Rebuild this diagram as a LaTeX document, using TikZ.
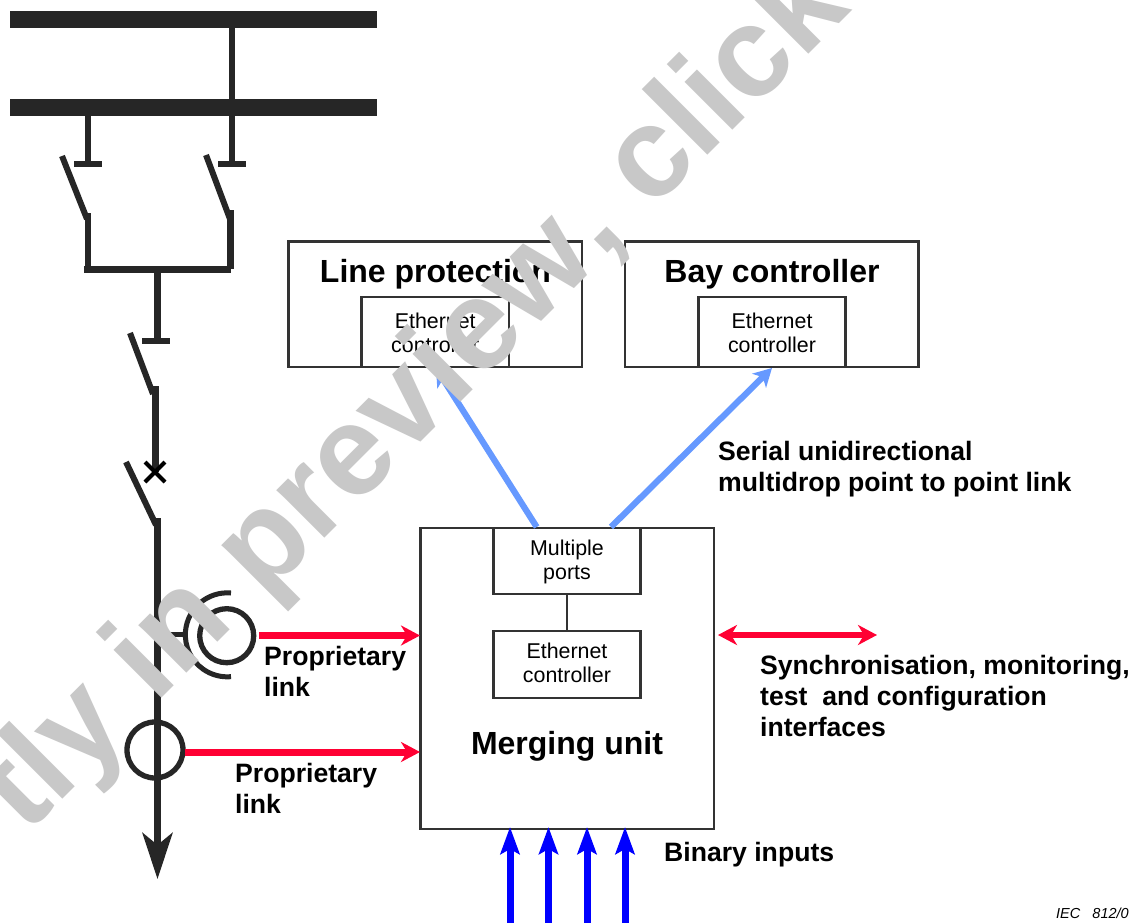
\documentclass[tikz,border=0pt]{standalone}
\usepackage{fontspec}
\setmainfont{Liberation Sans}
\usetikzlibrary{arrows.meta}
\definecolor{ink}{HTML}{262626}
\definecolor{boxline}{HTML}{333333}
\definecolor{redlink}{HTML}{FF0033}
\definecolor{lightblue}{HTML}{6699FF}
\definecolor{purblue}{HTML}{0000FF}
\definecolor{wmark}{HTML}{C8C8C8}
\tikzset{
  x=1pt,y=-1pt,
  power/.style={draw=ink,line width=7pt},
  thin power/.style={draw=ink,line width=6.3pt},
  blade/.style={draw=ink,line width=6pt},
  bus/.style={fill=ink,draw=none},
  wbox/.style={draw=boxline,line width=2.2pt,fill=white,inner sep=0pt},
  boxtext/.style={inner sep=0pt,align=center,font=\fontsize{21.4}{24}\selectfont},
  big/.style={font=\fontsize{32}{36}\bfseries\selectfont,inner sep=0pt,anchor=base},
  lab/.style={font=\fontsize{26.6}{31}\bfseries\selectfont,inner sep=0pt,anchor=base west},
  redarrow/.style={draw=redlink,line width=7pt,-{Stealth[length=19pt,width=20pt,inset=6pt]}},
  redboth/.style={draw=redlink,line width=6pt,{Stealth[length=19pt,width=20pt,inset=6pt]}-{Stealth[length=19pt,width=20pt,inset=6pt]}},
  bluelink/.style={draw=lightblue,line width=6.2pt,-{Stealth[length=18pt,width=19.5pt,inset=5pt]}},
  binput/.style={draw=purblue,line width=7pt,-{Stealth[length=27pt,width=19pt,inset=5pt]}},
  wm/.style={font=\fontsize{128}{128}\bfseries\selectfont,text=wmark,rotate=45,anchor=base west,inner sep=0pt},
}
\begin{document}
\begin{tikzpicture}
\useasboundingbox (0,0) rectangle (1133,923);
\clip (0,0) rectangle (1133,923);
\fill[white] (0,0) rectangle (1133,923);

% Busbars
\node[bus,minimum width=367pt,minimum height=17pt,inner sep=0pt] (bus1) at (193.5,19.5) {};
\node[bus,minimum width=367pt,minimum height=17pt,inner sep=0pt] (bus2) at (193.5,107.5) {};

% Disconnector columns
\coordinate (r0) at (232,28);
\coordinate (r1) at (232,164);
\coordinate (l0) at (88,116);
\coordinate (l1) at (88,164);
\coordinate (lc1) at (74,164);
\coordinate (lc2) at (102,164);
\coordinate (rc1) at (218,164);
\coordinate (rc2) at (246,164);
\coordinate (lb1) at (62,156);
\coordinate (lb2) at (87,219);
\coordinate (rb1) at (206,155);
\coordinate (rb2) at (230,219);
\coordinate (lv1) at (88,213);
\coordinate (lv2) at (88,270);
\coordinate (rv1) at (230.5,210);
\coordinate (rv2) at (230.5,269);
\coordinate (h1) at (84,269.5);
\coordinate (h2) at (231,269.5);
\draw[thin power] (r0) -- (r1);
\draw[thin power] (l0) -- (l1);
\draw[thin power] (lc1) -- (lc2);
\draw[thin power] (rc1) -- (rc2);
\draw[blade] (lb1) -- (lb2);
\draw[blade] (rb1) -- (rb2);
\draw[thin power] (lv1) -- (lv2);
\draw[thin power] (rv1) -- (rv2);
\draw[thin power] (h1) -- (h2);

% Main line
\coordinate (m0) at (157.5,272);
\coordinate (m1) at (157.5,341);
\coordinate (mc1) at (142,341);
\coordinate (mc2) at (170,341);
\coordinate (mb1) at (130,333);
\coordinate (mb2) at (153,394);
\coordinate (m2) at (155.5,386);
\coordinate (m3) at (155.5,472);
\coordinate (cb1) at (126,462);
\coordinate (cb2) at (156,525);
\coordinate (m4) at (157.5,518);
\coordinate (m5) at (157.5,879);
\draw[power] (m0) -- (m1);
\draw[thin power] (mc1) -- (mc2);
\draw[blade] (mb1) -- (mb2);
\draw[power] (m2) -- (m3);
\draw[blade] (cb1) -- (cb2);
\draw[power,-{Stealth[length=46pt,width=30pt,inset=12pt]}] (m4) -- (m5);
% Breaker cross
\draw[draw=black,line width=4pt] (145,462) -- (165,482);
\draw[draw=black,line width=4pt] (165,462) -- (145,482);

% Transformers
\node[draw=ink,line width=5.3pt,circle,minimum size=54pt,inner sep=0pt] (ct1) at (226.7,635.7) {};
\node[draw=ink,line width=5.3pt,circle,minimum size=56pt,inner sep=0pt] (ct2) at (155,750) {};
\draw[draw=ink,line width=5pt] (231,593) arc[start angle=-85,end angle=-275,radius=42];
\coordinate (st1) at (157,634.5);
\coordinate (st2) at (186,634.5);
\draw[draw=ink,line width=5pt] (st1) -- (st2);

% Boxes
\node[wbox,minimum width=293.5pt,minimum height=125.5pt] (lp) at (435.25,304.25) {};
\node[big] (lpt) at (435.5,282) {Line protection};
\node[wbox,minimum width=147.5pt,minimum height=70pt] (lpe) at (435.25,332) {};
\node[boxtext,yshift=-1pt] (lpet) at (lpe) {Ethernet\\controller};
\node[wbox,minimum width=293.5pt,minimum height=125.5pt] (bc) at (771.75,304.25) {};
\node[big] (bct) at (772,282) {Bay controller};
\node[wbox,minimum width=147pt,minimum height=70pt] (bce) at (772,332) {};
\node[boxtext,yshift=-1pt] (bcet) at (bce) {Ethernet\\controller};
\node[wbox,minimum width=293.5pt,minimum height=301pt] (mu) at (567.25,678.5) {};
\node[wbox,minimum width=147pt,minimum height=66pt] (mp) at (567,561) {};
\node[boxtext,yshift=-1pt] (mpt) at (mp) {Multiple\\ports};
\node[wbox,minimum width=147pt,minimum height=67pt] (ec) at (567,664.5) {};
\node[boxtext,yshift=2pt] (ect) at (ec) {Ethernet\\controller};
\draw[draw=boxline,line width=2pt] (mp.south) -- (ec.north);
\node[big] (mut) at (567,754) {Merging unit};

% Links
\coordinate (b1s) at (536.7,527);
\coordinate (b1e) at (436,368);
\coordinate (b2s) at (611,527);
\coordinate (b2e) at (772,368);
\draw[bluelink] (b1s) -- (b1e);
\draw[bluelink] (b2s) -- (b2e);
\coordinate (r1s) at (259,635.5);
\coordinate (r1e) at (420,635.5);
\coordinate (r2s) at (185,752);
\coordinate (r2e) at (420,752);
\draw[redarrow] (r1s) -- (r1e);
\draw[redarrow] (r2s) -- (r2e);
\coordinate (d1) at (718,635);
\coordinate (d2) at (877,635);
\draw[redboth] (d1) -- (d2);
\foreach \n/\x in {a/510,b/548.5,c/587,d/625}{
  \coordinate (bi\n s) at (\x,923);
  \coordinate (bi\n e) at (\x,827);
  \draw[binput] (bi\n s) -- (bi\n e);
}

% Labels
\node[lab] (t1) at (264,665) {Proprietary};
\node[lab] (t2) at (264,696) {link};
\node[lab] (t3) at (235,782) {Proprietary};
\node[lab] (t4) at (235,813) {link};
\node[lab] (t5) at (718,460) {Serial unidirectional};
\node[lab] (t6) at (718,491) {multidrop point to point link};
\node[lab] (t7) at (760,674) {Synchronisation, monitoring,};
\node[lab] (t8) at (760,705) {test\ \ and configuration};
\node[lab] (t9) at (760,736) {interfaces};
\node[lab] (t10) at (664,861) {Binary inputs};
\node[inner sep=0pt,anchor=base west,font=\fontsize{14.5}{16}\itshape\selectfont] (iec) at (1056,918) {IEC\ \ \ 812/0};

% Watermark
\node[wm] (w1) at (26.3,835.7) {tly};
\node[wm] (w2) at (155.4,704.6) {in};
\node[wm] (w3) at (263,600) {preview};
\node[wm] (w4) at (601,260) {,};
\node[wm] (w5) at (651,212) {click};
\end{tikzpicture}
\end{document}
